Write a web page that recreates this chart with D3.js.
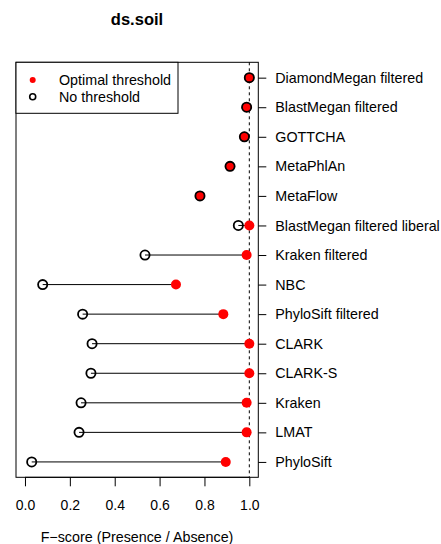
<!DOCTYPE html>
<html>
<head>
<meta charset="utf-8">
<script src="https://cdn.jsdelivr.net/npm/d3@7"></script>
<style>
  body { margin: 0; background: #fff; }
  svg { font-family: "Liberation Sans", Arial, sans-serif; }
</style>
</head>
<body>
<svg id="chart" width="441" height="544"></svg>
<script>
// tools, top to bottom
const tools = [
  "DiamondMegan filtered", "BlastMegan filtered", "GOTTCHA", "MetaPhlAn",
  "MetaFlow", "BlastMegan filtered liberal", "Kraken filtered", "NBC",
  "PhyloSift filtered", "CLARK", "CLARK-S", "Kraken", "LMAT", "PhyloSift"
];
const optimal = [1.0, 0.988, 0.978, 0.914, 0.78, 1.0, 0.988, 0.673, 0.884, 1.0, 1.0, 0.988, 0.988, 0.895];
const noThreshold = [1.0, 0.988, 0.978, 0.914, 0.78, 0.951, 0.535, 0.079, 0.257, 0.299, 0.294, 0.25, 0.241, 0.03];
const xTicks = [0, 0.2, 0.4, 0.6, 0.8, 1.0];

const fontSize = 14.3;
const svg = d3.select("#chart");
const box = { left: 16, right: 258.3, top: 62.3, bottom: 477.3 };

const x = d3.scaleLinear().domain([-0.04, 1.04]).range([box.left, box.right]);
// row 1 at top
const y = d3.scaleLinear().domain([0.48, tools.length + 0.52]).range([box.top, box.bottom]);

const rows = tools.map((t, i) => ({ name: t, row: i + 1, opt: optimal[i], no: noThreshold[i] }));

// dashed reference line at 1.0
svg.append("line")
  .attr("x1", x(1)).attr("x2", x(1))
  .attr("y1", box.top).attr("y2", box.bottom)
  .attr("stroke", "#000").attr("stroke-width", 1)
  .attr("stroke-dasharray", "3,3");

// segments
svg.selectAll(".seg")
  .data(rows)
  .enter()
  .append("line")
  .attr("class", "seg")
  .attr("x1", (d) => x(d.no)).attr("x2", (d) => x(d.opt))
  .attr("y1", (d) => y(d.row)).attr("y2", (d) => y(d.row))
  .attr("stroke", "#000").attr("stroke-width", 1);

// optimal threshold points
svg.selectAll(".opt")
  .data(rows)
  .enter()
  .append("circle")
  .attr("cx", (d) => x(d.opt)).attr("cy", (d) => y(d.row))
  .attr("r", 5).attr("fill", "#ff0000");

// no threshold points
svg.selectAll(".no")
  .data(rows)
  .enter()
  .append("circle")
  .attr("cx", (d) => x(d.no)).attr("cy", (d) => y(d.row))
  .attr("r", 4.6).attr("fill", "none")
  .attr("stroke", "#000").attr("stroke-width", 1.8);

// plot box
svg.append("rect")
  .attr("x", box.left).attr("y", box.top)
  .attr("width", box.right - box.left).attr("height", box.bottom - box.top)
  .attr("fill", "none").attr("stroke", "#000").attr("stroke-width", 1);

// bottom axis
const xAxis = d3.axisBottom(x).tickValues(xTicks).tickFormat(d3.format(".1f")).tickSize(9).tickPadding(14);
const gx = svg.append("g").attr("transform", `translate(0,${box.bottom})`).call(xAxis);
gx.select(".domain").attr("d", `M${x(0)},0H${x(1)}`);
gx.selectAll("text").attr("font-size", 14).attr("font-family", "Liberation Sans, Arial, sans-serif").attr("fill", "#000");

// right axis with tool names
const gy = svg.append("g").attr("transform", `translate(${box.right},0)`)
  .call(d3.axisRight(y).tickValues(rows.map((d) => d.row)).tickFormat((d) => tools[d - 1]).tickSize(8).tickPadding(9));
gy.select(".domain").remove();
gy.selectAll("text").attr("font-size", fontSize).attr("font-family", "Liberation Sans, Arial, sans-serif").attr("fill", "#000");

// title
svg.append("text")
  .attr("x", 137).attr("y", 25)
  .attr("text-anchor", "middle")
  .attr("font-size", 16.5).attr("font-weight", "bold")
  .text("ds.soil");

// x label
svg.append("text")
  .attr("x", 137).attr("y", 542)
  .attr("text-anchor", "middle")
  .attr("font-size", fontSize)
  .text("F\u2212score (Presence / Absence)");

// legend
const legend = svg.append("g");
legend.append("rect")
  .attr("x", box.left).attr("y", box.top)
  .attr("width", 162).attr("height", 51)
  .attr("fill", "#fff").attr("stroke", "#000").attr("stroke-width", 1);
legend.append("circle").attr("cx", 32.7).attr("cy", 80).attr("r", 3).attr("fill", "#ff0000");
legend.append("circle").attr("cx", 32.7).attr("cy", 96.7).attr("r", 3)
  .attr("fill", "none").attr("stroke", "#000").attr("stroke-width", 1.6);
legend.append("text").attr("x", 59).attr("y", 85).attr("font-size", fontSize).text("Optimal threshold");
legend.append("text").attr("x", 59).attr("y", 102).attr("font-size", fontSize).text("No threshold");
</script>
</body>
</html>
